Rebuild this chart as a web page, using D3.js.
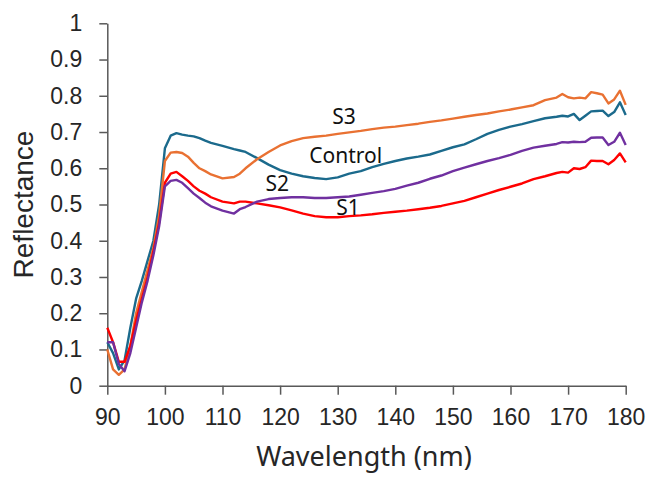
<!DOCTYPE html>
<html>
<head>
<meta charset="utf-8">
<script src="https://cdn.jsdelivr.net/npm/d3@7"></script>
<style>
  body { margin: 0; background: #fff; }
  svg { display: block; }
</style>
</head>
<body>
<svg id="chart" width="647" height="477"></svg>
<script>
// wavelengths (nm), finer steps where the curves wiggle
let wavelength = [90, 91, 92, 93, 94, 95, 96, 97, 98, 99, 100, 101, 102, 103, 104, 105, 106, 107, 108,
  110, 112, 113, 114, 116, 118, 120, 122, 124, 126, 128, 130, 132, 134, 136, 138, 140, 142, 144,
  146, 148, 150, 152, 154, 156, 158, 160, 162, 164, 166, 168, 169, 170, 171, 172, 173, 174, 175,
  176, 177, 178, 179, 180];

let control = [0.12, 0.09, 0.045, 0.07, 0.16, 0.24, 0.29, 0.345, 0.40, 0.50, 0.655, 0.69, 0.697, 0.693, 0.69, 0.688, 0.683, 0.676, 0.67,
  0.662, 0.653, 0.649, 0.645, 0.628, 0.61, 0.595, 0.585, 0.578, 0.573, 0.570, 0.575, 0.585, 0.592, 0.603, 0.612, 0.62, 0.627, 0.632,
  0.638, 0.648, 0.658, 0.666, 0.68, 0.695, 0.706, 0.715, 0.722, 0.73, 0.738, 0.742, 0.745, 0.743, 0.75, 0.733, 0.745, 0.757, 0.758,
  0.759, 0.744, 0.755, 0.782, 0.747];

let s3 = [0.10, 0.045, 0.03, 0.045, 0.11, 0.20, 0.26, 0.32, 0.38, 0.47, 0.62, 0.643, 0.645, 0.642, 0.632, 0.615, 0.60, 0.592, 0.583,
  0.572, 0.576, 0.585, 0.60, 0.625, 0.645, 0.663, 0.675, 0.683, 0.687, 0.69, 0.695, 0.699, 0.703, 0.708, 0.712, 0.715, 0.719, 0.723,
  0.728, 0.732, 0.737, 0.742, 0.747, 0.751, 0.757, 0.762, 0.768, 0.774, 0.788, 0.795, 0.805, 0.796, 0.793, 0.795, 0.793, 0.81, 0.807,
  0.803, 0.779, 0.79, 0.814, 0.775];

let s1 = [0.16, 0.12, 0.066, 0.066, 0.11, 0.18, 0.24, 0.30, 0.37, 0.45, 0.56, 0.585, 0.59, 0.578, 0.565, 0.55, 0.538, 0.53, 0.52,
  0.508, 0.503, 0.508, 0.508, 0.503, 0.498, 0.492, 0.484, 0.475, 0.468, 0.465, 0.465, 0.468, 0.47, 0.473, 0.477, 0.48, 0.483, 0.487,
  0.491, 0.496, 0.503, 0.51, 0.52, 0.53, 0.54, 0.549, 0.558, 0.57, 0.578, 0.587, 0.59, 0.588, 0.60, 0.598, 0.603, 0.621, 0.62,
  0.62, 0.611, 0.623, 0.641, 0.616];

let s2 = [0.12, 0.12, 0.06, 0.04, 0.09, 0.16, 0.23, 0.29, 0.36, 0.44, 0.55, 0.565, 0.568, 0.56, 0.545, 0.53, 0.518, 0.505, 0.495,
  0.483, 0.475, 0.487, 0.493, 0.508, 0.515, 0.518, 0.52, 0.52, 0.518, 0.518, 0.52, 0.522, 0.527, 0.532, 0.537, 0.543, 0.552, 0.56,
  0.571, 0.58, 0.592, 0.602, 0.611, 0.62, 0.628, 0.637, 0.648, 0.657, 0.662, 0.667, 0.672, 0.671, 0.673, 0.672, 0.673, 0.684, 0.685,
  0.685, 0.664, 0.673, 0.698, 0.664];

let seriesNames = ["S1", "S2", "S3", "Control"];
let seriesColors = ["#ff0000", "#7030a0", "#e97132", "#1b6a8c"];

// where each series name sits, in data units (nm, reflectance)
let labelNm = [131.8, 119.5, 131.1, 131.4];
let labelVal = [0.471, 0.537, 0.722, 0.615];

let xTicks = [90, 100, 110, 120, 130, 140, 150, 160, 170, 180];
let yTicks = [0, 0.1, 0.2, 0.3, 0.4, 0.5, 0.6, 0.7, 0.8, 0.9, 1];

let margin = {top: 23.3, right: 21.3, bottom: 91.3, left: 107.3};
let width = 647 - margin.left - margin.right;
let height = 477 - margin.top - margin.bottom;

let svg = d3.select("#chart");
let g = svg.append("g").attr("transform", `translate(${margin.left},${margin.top})`);

let xScale = d3.scaleLinear().domain([90, 180]).range([0, width]);
let yScale = d3.scaleLinear().domain([0, 1]).range([height, 0]);

let axisColor = "#595959";
let tickFont = "'Liberation Sans', Arial, sans-serif";

// y axis
let yAxis = g.append("g")
  .call(d3.axisLeft(yScale).tickValues(yTicks).tickSize(8).tickSizeOuter(0).tickFormat(d => d3.format("~g")(d)));
yAxis.select(".domain").attr("stroke", axisColor).attr("stroke-width", 1.5);
yAxis.selectAll(".tick line").attr("stroke", axisColor).attr("stroke-width", 1.5);
yAxis.selectAll(".tick text")
  .attr("x", -25)
  .attr("fill", "#262626")
  .style("font-family", tickFont)
  .style("font-size", "23px");

// x axis
let xAxis = g.append("g")
  .attr("transform", `translate(0,${height})`)
  .call(d3.axisBottom(xScale).tickValues(xTicks).tickSize(9).tickSizeOuter(0));
xAxis.select(".domain").attr("stroke", axisColor).attr("stroke-width", 1.5);
xAxis.selectAll(".tick line").attr("stroke", axisColor).attr("stroke-width", 1.5);
xAxis.selectAll(".tick text")
  .attr("y", 39)
  .attr("dy", null)
  .attr("fill", "#262626")
  .style("font-family", tickFont)
  .style("font-size", "23px");

// axis titles
svg.append("text")
  .attr("transform", `translate(33,204.5) rotate(-90)`)
  .attr("text-anchor", "middle")
  .attr("fill", "#262626")
  .style("font-family", tickFont)
  .style("font-size", "28px")
  .text("Reflectance");

svg.append("text")
  .attr("x", 364)
  .attr("y", 466)
  .attr("text-anchor", "middle")
  .attr("fill", "#262626")
  .style("font-family", "'Noto Sans', sans-serif")
  .style("font-size", "27px")
  .text("Wavelength (nm)");

// lines
let allSeries = [s1, s2, s3, control];

let lineGen = d3.line()
  .x(d => xScale(d[0]))
  .y(d => yScale(d[1]));

// draw order: control, s3, s1, s2 (purple on top near the dip)
let order = [3, 2, 0, 1];
order.forEach(i => {
  let pts = wavelength.map((w, j) => [w, allSeries[i][j]]);
  g.append("path")
    .datum(pts)
    .attr("fill", "none")
    .attr("stroke", seriesColors[i])
    .attr("stroke-width", 2.4)
    .attr("stroke-linejoin", "round")
    .attr("d", lineGen);
});

// series labels
g.selectAll(".series-label")
  .data(seriesNames)
  .join("text")
  .attr("class", "series-label")
  .attr("x", (d, i) => xScale(labelNm[i]))
  .attr("y", (d, i) => yScale(labelVal[i]))
  .attr("text-anchor", "middle")
  .attr("fill", "#111")
  .style("font-family", "'Noto Sans', sans-serif")
  .style("font-size", "21px")
  .text(d => d);
</script>
</body>
</html>
